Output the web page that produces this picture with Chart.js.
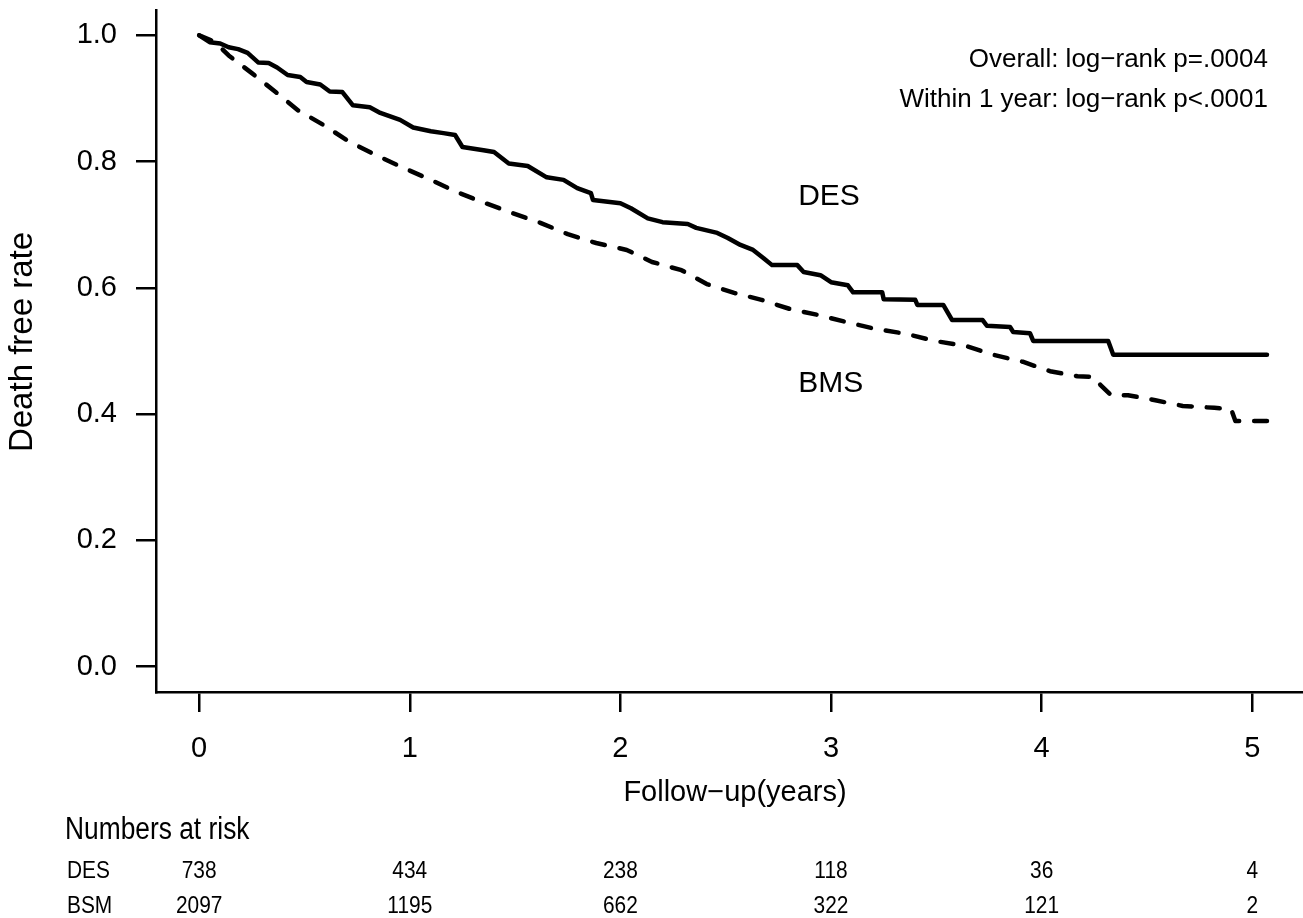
<!DOCTYPE html>
<html>
<head>
<meta charset="utf-8">
<script src="https://cdn.jsdelivr.net/npm/chart.js@4"></script>
<style>
  html, body { margin: 0; padding: 0; background: #fff; }
  #wrap { width: 1303px; height: 918px; }
</style>
</head>
<body>
<div id="wrap"><canvas id="kmChart" width="1303" height="918"></canvas></div>
<script>
/* Kurva Kaplan-Meier: waktu (tahun) dan survival */
const desTime = [0, 0.05, 0.10, 0.14, 0.185, 0.23, 0.28, 0.33, 0.37, 0.42, 0.48, 0.51, 0.575, 0.62, 0.68, 0.73, 0.81, 0.86, 0.954, 1.016,
  1.10, 1.16, 1.215, 1.25, 1.35, 1.40, 1.47, 1.56, 1.65, 1.73, 1.795, 1.86, 1.87, 2.0, 2.05, 2.13, 2.20, 2.32, 2.36, 2.46,
  2.51, 2.57, 2.63, 2.68, 2.72, 2.84, 2.87, 2.95, 3.0, 3.08, 3.105, 3.243, 3.25, 3.40, 3.41, 3.533, 3.575, 3.72, 3.74, 3.85,
  3.865, 3.945, 3.96, 4.316, 4.34, 5.07];
const desSurv = [1.0, 0.989, 0.987, 0.981, 0.978, 0.972, 0.957, 0.956, 0.949, 0.937, 0.934, 0.926, 0.922, 0.911, 0.910, 0.889, 0.886, 0.877, 0.866, 0.854,
  0.848, 0.845, 0.842, 0.823, 0.818, 0.815, 0.797, 0.793, 0.775, 0.771, 0.758, 0.750, 0.739, 0.734, 0.726, 0.710, 0.704, 0.701, 0.695, 0.687,
  0.679, 0.668, 0.660, 0.647, 0.636, 0.636, 0.625, 0.620, 0.609, 0.604, 0.593, 0.593, 0.582, 0.581, 0.573, 0.573, 0.549, 0.549, 0.540, 0.538,
  0.530, 0.528, 0.516, 0.516, 0.494, 0.494];

const bmsTime = [0, 0.076, 0.14, 0.25, 0.36, 0.47, 0.59, 0.71, 0.84, 0.97, 1.10, 1.22, 1.36, 1.49, 1.62, 1.75, 1.885, 2.03, 2.15, 2.29,
  2.41, 2.54, 2.67, 2.81, 2.94, 3.07, 3.21, 3.36, 3.49, 3.64, 3.77, 3.91, 4.04, 4.17, 4.25, 4.28, 4.33, 4.41, 4.54, 4.67,
  4.82, 4.90, 4.92, 5.07];
const bmsSurv = [1.0, 0.989, 0.968, 0.940, 0.911, 0.881, 0.858, 0.832, 0.810, 0.790, 0.771, 0.752, 0.734, 0.718, 0.703, 0.685, 0.671, 0.660, 0.641, 0.628,
  0.606, 0.592, 0.581, 0.566, 0.557, 0.546, 0.535, 0.527, 0.516, 0.508, 0.494, 0.483, 0.468, 0.460, 0.459, 0.446, 0.430, 0.430, 0.422, 0.413,
  0.410, 0.408, 0.389, 0.389];

/* Tabel numbers at risk */
const riskTimes = [0, 1, 2, 3, 4, 5];
const desAtRisk = [738, 434, 238, 118, 36, 4];
const bsmAtRisk = [2097, 1195, 662, 322, 121, 2];

const xTicks = [0, 1, 2, 3, 4, 5];
const yTicks = [0, 0.2, 0.4, 0.6, 0.8, 1.0];

const FONT = "'Liberation Sans', Arial, sans-serif";

function toPoints(ts, ss) {
    return ts.map((t, i) => ({ x: t, y: ss[i] }));
}

/* teks agak dipadatkan (mirip font narrow) */
function narrowText(ctx, text, x, y, sx) {
    ctx.save();
    ctx.translate(x, y);
    ctx.scale(sx, 1);
    ctx.fillText(text, 0, 0);
    ctx.restore();
}

/* Teks tambahan: judul sumbu, label kurva, tabel */
const extraText = {
    id: 'extraText',
    afterDraw(chart) {
        const ctx = chart.ctx;
        const xs = chart.scales.x;
        const ys = chart.scales.y;
        ctx.save();
        ctx.fillStyle = '#000';

        // judul sumbu y
        ctx.save();
        ctx.translate(23, 342);
        ctx.rotate(-Math.PI / 2);
        ctx.font = '33px ' + FONT;
        ctx.textAlign = 'center';
        ctx.textBaseline = 'middle';
        ctx.fillText('Death free rate', 0, 0);
        ctx.restore();

        // judul sumbu x
        ctx.font = '29px ' + FONT;
        ctx.textAlign = 'center';
        ctx.textBaseline = 'middle';
        ctx.fillText('Follow\u2212up(years)', 735, 793);

        // keterangan log-rank
        ctx.font = '26px ' + FONT;
        ctx.textAlign = 'right';
        ctx.fillText('Overall: log\u2212rank p=.0004', 1268, 60);
        ctx.fillText('Within 1 year: log\u2212rank p<.0001', 1268, 100);

        // label kurva
        ctx.font = '30px ' + FONT;
        ctx.textAlign = 'left';
        ctx.fillText('DES', xs.getPixelForValue(2.844), ys.getPixelForValue(0.745));
        ctx.fillText('BMS', xs.getPixelForValue(2.844), ys.getPixelForValue(0.448));

        // numbers at risk
        ctx.font = '31px ' + FONT;
        narrowText(ctx, 'Numbers at risk', 65, 830, 0.85);
        ctx.font = '24px ' + FONT;
        narrowText(ctx, 'DES', 67, 871, 0.87);
        narrowText(ctx, 'BSM', 67, 906, 0.87);
        ctx.textAlign = 'center';
        riskTimes.forEach((t, i) => {
            const px = xs.getPixelForValue(t);
            narrowText(ctx, String(desAtRisk[i]), px, 871, 0.87);
            narrowText(ctx, String(bsmAtRisk[i]), px, 906, 0.87);
        });
        ctx.restore();
    }
};

const kmChart = document.getElementById('kmChart');
new Chart(kmChart, {
    type: 'line',
    data: {
        datasets: [{
            label: 'DES',
            data: toPoints(desTime, desSurv),
            borderColor: '#000',
            borderWidth: 4.5,
            pointRadius: 0,
            tension: 0,
            fill: false,
            borderJoinStyle: 'round',
            borderCapStyle: 'round'
        }, {
            label: 'BMS',
            data: toPoints(bmsTime, bmsSurv),
            borderColor: '#000',
            borderWidth: 4.5,
            borderDash: [13, 15],
            borderCapStyle: 'round',
            borderJoinStyle: 'round',
            pointRadius: 0,
            tension: 0,
            fill: false
        }]
    },
    options: {
        responsive: false,
        devicePixelRatio: 1,
        animation: false,
        layout: { padding: { top: 10, right: 0, left: 0, bottom: 0 } },
        plugins: {
            legend: { display: false },
            tooltip: { enabled: false }
        },
        scales: {
            x: {
                type: 'linear',
                min: -0.205,
                max: 5.241,
                afterFit: function (scale) {
                    scale.height = 226;
                    scale.paddingLeft = 0;
                    scale.paddingRight = 0;
                },
                afterBuildTicks: function (scale) { scale.ticks = xTicks.map(v => ({ value: v })); },
                grid: { drawOnChartArea: false, drawTicks: true, tickLength: 20, color: '#000', lineWidth: 2.5 },
                border: { display: true, color: '#000', width: 2.5 },
                ticks: { color: '#000', font: { family: FONT, size: 29 }, padding: 20, maxRotation: 0 }
            },
            y: {
                type: 'linear',
                min: -0.04,
                max: 1.04,
                afterFit: function (scale) {
                    scale.width = 156;
                    scale.paddingTop = 0;
                    scale.paddingBottom = 0;
                },
                afterBuildTicks: function (scale) { scale.ticks = yTicks.map(v => ({ value: v })); },
                grid: { drawOnChartArea: false, drawTicks: true, tickLength: 20, color: '#000', lineWidth: 2.5 },
                border: { display: true, color: '#000', width: 2.5 },
                ticks: {
                    color: '#000',
                    font: { family: FONT, size: 29 },
                    padding: 19,
                    callback: function (v) { return Number(v).toFixed(1); }
                }
            }
        }
    },
    plugins: [extraText]
});
</script>
</body>
</html>
